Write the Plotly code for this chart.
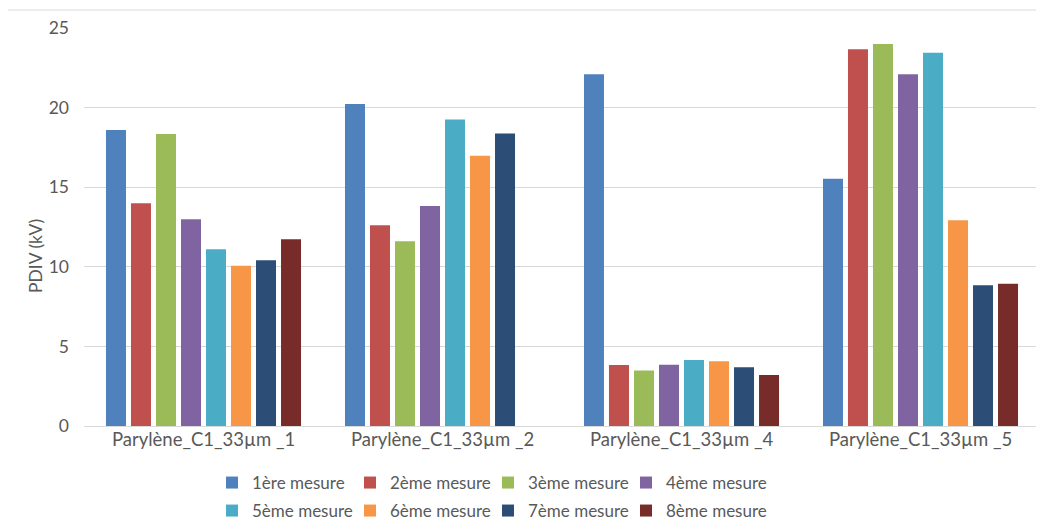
import plotly.graph_objects as go

categories = ["Parylène_C1_33µm _1", "Parylène_C1_33µm _2", "Parylène_C1_33µm _4", "Parylène_C1_33µm _5"]
series_names = ["1ère mesure", "2ème mesure", "3ème mesure", "4ème mesure",
                "5ème mesure", "6ème mesure", "7ème mesure", "8ème mesure"]
m1 = [18.59, 20.23, 22.09, 15.53]
m2 = [13.99, 12.61, 3.83, 23.66]
m3 = [18.34, 11.60, 3.48, 24.00]
m4 = [12.98, 13.82, 3.85, 22.09]
m5 = [11.10, 19.26, 4.15, 23.45]
m6 = [10.07, 16.98, 4.06, 12.92]
m7 = [10.41, 18.38, 3.69, 8.84]
m8 = [11.73, None, 3.20, 8.94]
colors = ["#4F81BD", "#C0504D", "#9BBB59", "#8064A2", "#4BACC6", "#F79646", "#2C4D75", "#772C2A"]
y_ticks = [0, 5, 10, 15, 20, 25]
y_title = "PDIV (kV)"

values = [m1, m2, m3, m4, m5, m6, m7, m8]
FONT = "Lato"
TXT = "#595959"
OFF = 8  # page body margin offset
W, H = 1044 - OFF, 527 - OFF

fig = go.Figure()
for i, (name, vals, col) in enumerate(zip(series_names, values, colors)):
    fig.add_trace(go.Bar(
        x=categories, y=vals, name=name, marker_color=col,
        marker_line_width=0,
        legend="legend" if i < 4 else "legend2",
    ))
# invisible spacer entries so the last legend column's text is not clipped
for lg in ["legend", "legend2"]:
    fig.add_trace(go.Scatter(x=[None], y=[None], mode="lines", name=" ",
                             line=dict(color="rgba(0,0,0,0)", width=0),
                             legend=lg, hoverinfo="skip"))

legend_common = dict(
    orientation="h", xanchor="left", yanchor="middle",
    xref="container", yref="container",
    entrywidth=93, entrywidthmode="pixels",
    font=dict(family=FONT, size=17, color=TXT),
    bgcolor="rgba(0,0,0,0)", itemwidth=30, tracegroupgap=0,
)

pw = 1040 - 84
ph = 426 - 28
L, T = 84 - OFF, 28 - OFF
fig.update_layout(
    width=W, height=H,
    paper_bgcolor="white", plot_bgcolor="white",
    margin=dict(l=L, r=1044 - 1040, t=T, b=527 - 426, autoexpand=False),
    barmode="group", bargap=0.163, bargroupgap=0.2,
    font=dict(family=FONT, size=17, color=TXT),
    legend=dict(x=(212 - OFF) / W, y=1 - (483 - OFF) / H, **legend_common),
    legend2=dict(x=(212 - OFF) / W, y=1 - (511 - OFF) / H, **legend_common),
    xaxis=dict(showline=False, ticks="", automargin=False,
               tickfont=dict(family=FONT, size=18.5, color=TXT)),
    yaxis=dict(range=[0, 25], tickvals=y_ticks, showgrid=True, gridcolor="#D9D9D9",
               gridwidth=1, zeroline=True, zerolinecolor="#D9D9D9", zerolinewidth=1,
               ticks="", ticklabelstandoff=14, automargin=False,
               tickfont=dict(family=FONT, size=17.5, color=TXT)),
    showlegend=True,
)

fig.add_annotation(text=y_title, xref="paper", yref="paper",
                   x=(35 - 84) / pw, y=(426 - 256) / ph, textangle=-90,
                   showarrow=False, xanchor="center", yanchor="middle",
                   font=dict(family=FONT, size=17.5, color=TXT))

# chart frame
fig.add_shape(type="rect", xref="paper", yref="paper",
              x0=(7 - 84) / pw, x1=1.0,
              y0=-0.3, y1=(426 - 10) / ph,
              line=dict(color="#D9D9D9", width=1), layer="below")

fig.write_html("out.html")
